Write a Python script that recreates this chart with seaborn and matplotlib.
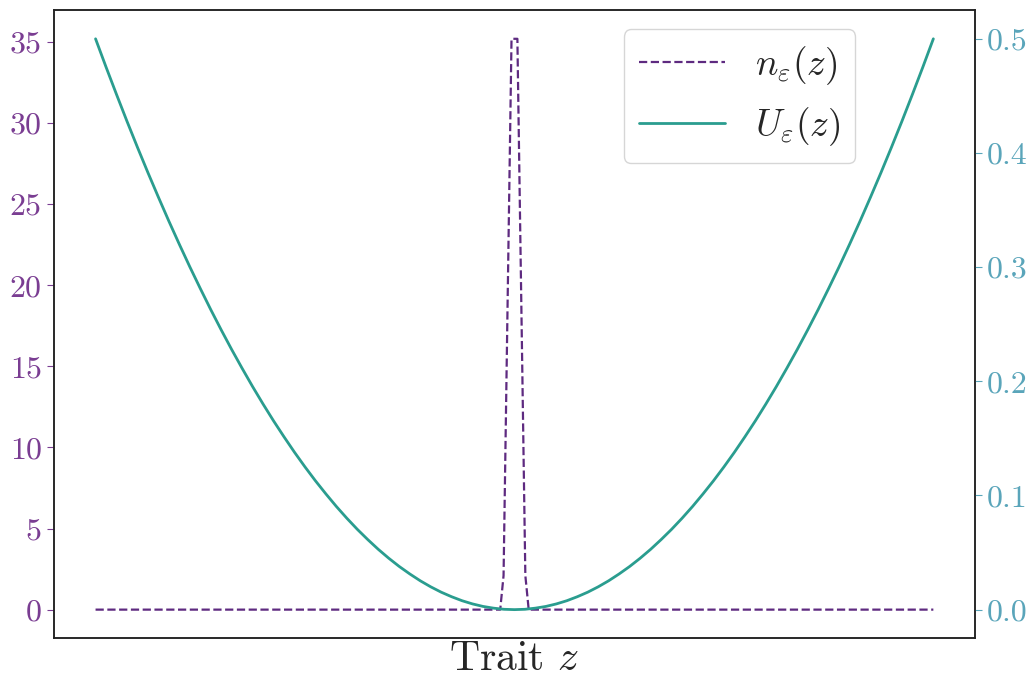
import numpy as np
import matplotlib
matplotlib.use("Agg")
import matplotlib.pyplot as plt
import seaborn as sns

# %% data
# trait grid for the density (coarse outside, finer around the spike)
z_n = [-1.0, -0.034, -0.026, -0.007, 0.007, 0.026, 0.034, 1.0]
n_eps = [0.0, 0.0, 2.1, 35.2, 35.2, 2.1, 0.0, 0.0]

# right half of the (symmetric) fitness landscape, z = 0 ... 1
z_half = [0.0, 0.025, 0.05, 0.075, 0.1, 0.125, 0.15, 0.175, 0.2, 0.225,
          0.25, 0.275, 0.3, 0.325, 0.35, 0.375, 0.4, 0.425, 0.45, 0.475,
          0.5, 0.525, 0.55, 0.575, 0.6, 0.625, 0.65, 0.675, 0.7, 0.725,
          0.75, 0.775, 0.8, 0.825, 0.85, 0.875, 0.9, 0.925, 0.95, 0.975, 1.0]
U_half = [0.0, 0.0003, 0.0013, 0.0028, 0.005, 0.0078, 0.0113, 0.0153, 0.02, 0.0253,
          0.0313, 0.0378, 0.045, 0.0528, 0.0613, 0.0703, 0.08, 0.0903, 0.1013, 0.1128,
          0.125, 0.1378, 0.1513, 0.1653, 0.18, 0.1953, 0.2113, 0.2278, 0.245, 0.2628,
          0.2813, 0.3003, 0.32, 0.3403, 0.3613, 0.3828, 0.405, 0.4278, 0.4513, 0.4753, 0.5]
z_u = [-v for v in z_half[:0:-1]] + z_half
U_eps = U_half[:0:-1] + U_half

left_ticks = [0, 5, 10, 15, 20, 25, 30, 35]
right_ticks = [0.0, 0.1, 0.2, 0.3, 0.4, 0.5]

# %% style
sns.set_style("ticks")
plt.rcParams["font.family"] = ["serif"]
plt.rcParams["font.serif"] = ["cmr10", "DejaVu Serif"]
plt.rcParams["mathtext.fontset"] = "cm"
plt.rcParams["axes.formatter.use_mathtext"] = True
plt.rcParams["axes.unicode_minus"] = False

purple = "#5e2a80"
teal = "#2a9d8f"
purple_lab = "#7a3d92"
teal_lab = "#5aa5ba"

# %% plot
fig, ax = plt.subplots(figsize=(10.32, 6.84), dpi=100)
ax2 = ax.twinx()

sns.lineplot(x=z_n, y=n_eps, ax=ax, color=purple, linestyle="--", linewidth=1.6,
             label=r"$n_\varepsilon(z)$", legend=False)
sns.lineplot(x=z_u, y=U_eps, ax=ax2, color=teal, linewidth=2.0,
             label=r"$U_\varepsilon(z)$", legend=False)

ax.set_xticks([])
ax.set_xlabel(r"Trait $z$", fontsize=30, labelpad=2)
ax.set_ylabel("")
ax2.set_ylabel("")

ax.set_yticks(left_ticks)
ax.set_yticklabels([str(t) for t in left_ticks])
ax2.set_yticks(right_ticks)
ax2.set_yticklabels([f"{t:.1f}" for t in right_ticks])

ax.tick_params(axis="y", labelsize=23, colors=purple_lab, length=5)
ax2.tick_params(axis="y", labelsize=23, colors=teal_lab, length=5)

for a in (ax, ax2):
    for sp in a.spines.values():
        sp.set_visible(True)
        sp.set_color("#222222")
        sp.set_linewidth(1.1)

h1, l1 = ax.get_legend_handles_labels()
h2, l2 = ax2.get_legend_handles_labels()
ax2.legend(h1 + h2, l1 + l2, loc="upper center", bbox_to_anchor=(0.744, 1.0),
           fontsize=27, handlelength=2.3, fancybox=True)

fig.subplots_adjust(left=0.052, right=0.945, top=0.985, bottom=0.067)
fig.savefig("out.png", dpi=100)
